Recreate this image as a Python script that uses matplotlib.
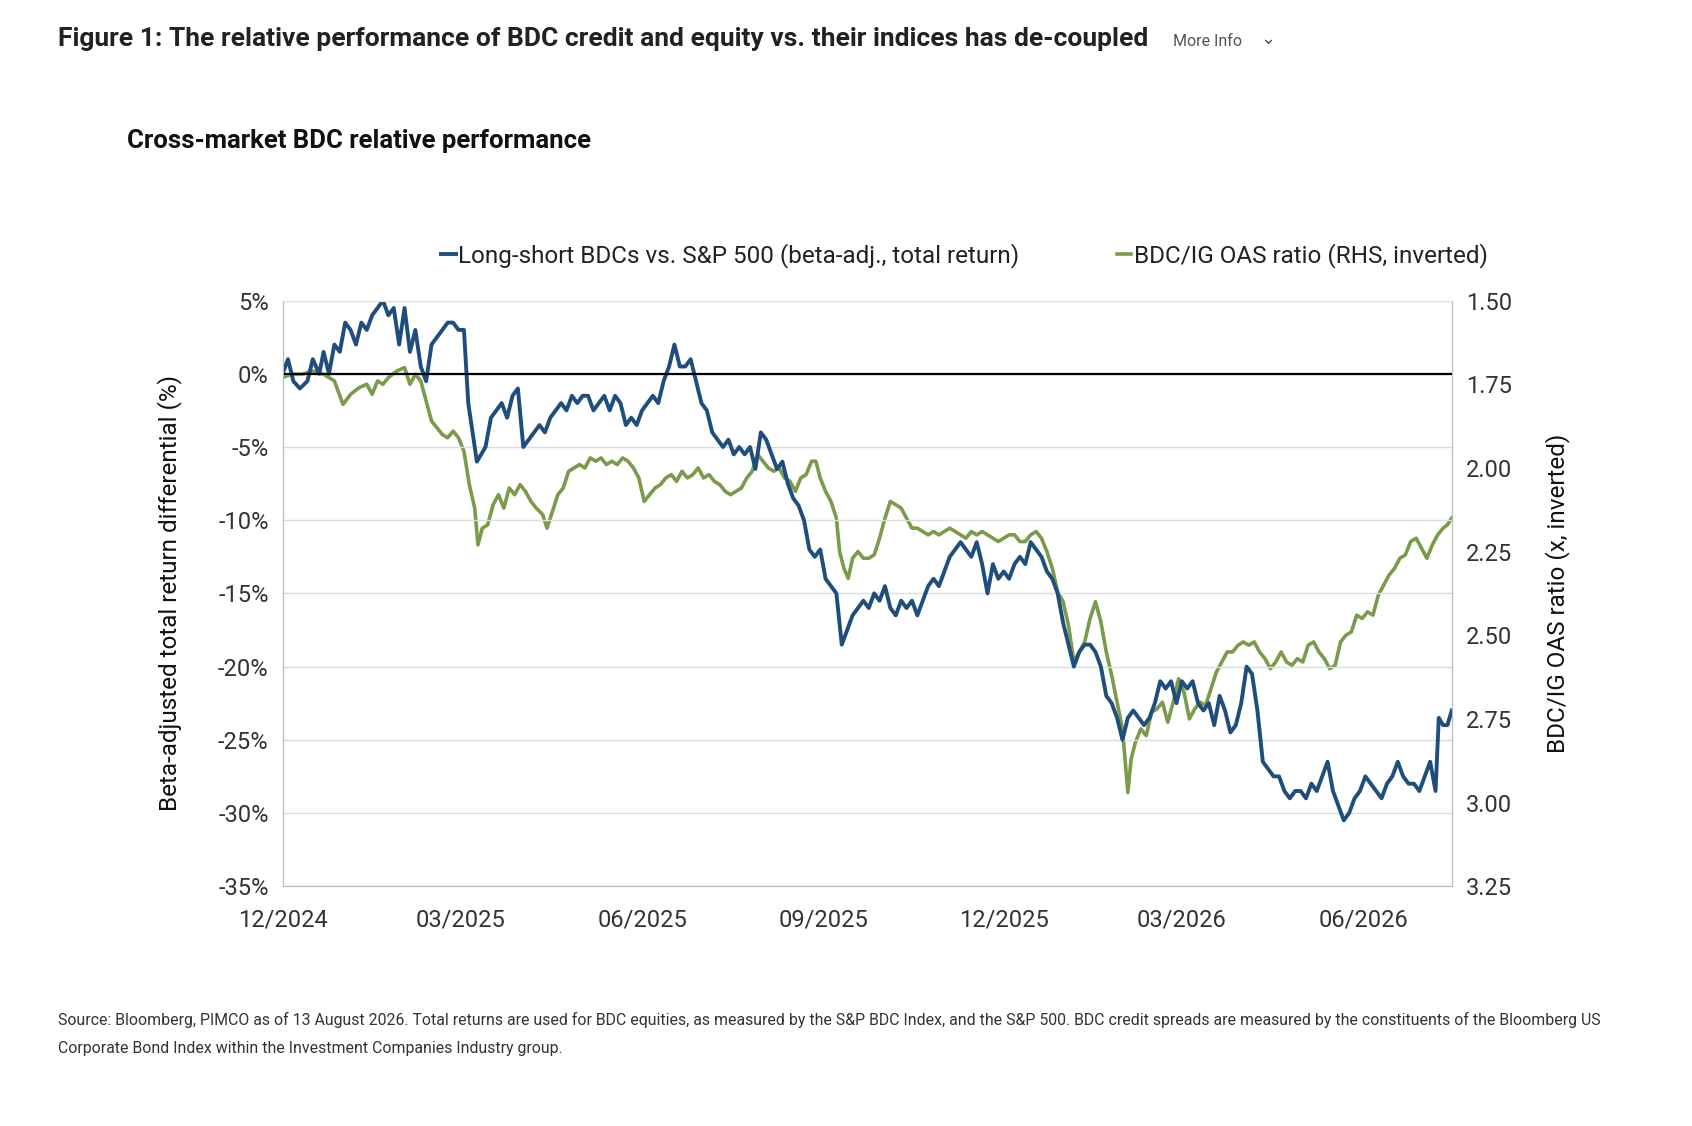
import matplotlib
matplotlib.use("Agg")
import matplotlib.pyplot as plt
import numpy as np
import pandas as pd

plt.rcParams['font.family'] = ['Roboto', 'DejaVu Sans']

# sample positions (chart-units, 1.83 per calendar day from 2024-12-01) and values
blue_pos = [262,267,272,278,285,290,296,300,305,310,315,320,325,330,335,340,345,350,355,360,365,370,375,380,385,390,395,400,405,410,415,420,425,430,434,438,442,446,450,455,460,465,470,475,480,485,490,495,500,505,510,515,520,525,530,535,540,545,550,555,560,565,570,575,580,585,590,595,600,605,610,615,620,625,630,635,640,645,650,655,660,665,670,675,680,685,690,695,700,705,710,715,720,725,730,735,740,745,750,755,760,765,770,775,780,785,790,795,800,805,810,815,820,825,830,835,840,845,850,855,860,865,870,875,880,885,890,895,900,905,910,915,920,925,930,935,940,945,950,955,960,965,970,975,980,985,990,995,1000,1005,1010,1015,1020,1025,1030,1035,1040,1045,1050,1055,1060,1065,1070,1075,1080,1085,1090,1095,1100,1105,1110,1115,1120,1125,1130,1135,1140,1145,1150,1155,1160,1165,1170,1175,1180,1185,1190,1195,1200,1205,1210,1215,1220,1225,1230,1235,1240,1245,1250,1255,1260,1265,1270,1275,1280,1285,1290,1295,1300,1305,1310,1315,1320,1325,1330,1333,1337,1341,1345]
blue_val = [0,1,-0.5,-1,-0.5,1,0,1.5,0,2,1.5,3.5,3,2,3.5,3,4,4.5,5,4,4.5,2,4.5,1.5,3,0.5,-0.5,2,2.5,3,3.5,3.5,3,3,-2,-4,-6,-5.5,-5,-3,-2.5,-2,-3,-1.5,-1,-5,-4.5,-4,-3.5,-4,-3,-2.5,-2,-2.5,-1.5,-2,-1.5,-1.5,-2.5,-2,-1.5,-2.5,-1.5,-2,-3.5,-3,-3.5,-2.5,-2,-1.5,-2,-0.5,0.5,2,0.5,0.5,1,-0.5,-2,-2.5,-4,-4.5,-5,-4.5,-5.5,-5,-5.5,-5,-6.5,-4,-4.5,-5.5,-6.5,-6,-7.5,-8.5,-9,-10,-12,-12.5,-12,-14,-14.5,-15,-18.5,-17.5,-16.5,-16,-15.5,-16,-15,-15.5,-14.5,-16,-16.5,-15.5,-16,-15.5,-16.5,-15.5,-14.5,-14,-14.5,-13.5,-12.5,-12,-11.5,-12,-12.5,-11.5,-13,-15,-13,-14,-13.5,-14,-13,-12.5,-13,-11.5,-12,-12.5,-13.5,-14,-15,-17,-18.5,-20,-19,-18.5,-18.5,-19,-20,-22,-22.5,-23.5,-25,-23.5,-23,-23.5,-24,-23.5,-22.5,-21,-21.5,-21,-22.5,-21,-21.5,-21,-22.5,-23,-22.5,-24,-22,-23,-24.5,-24,-22.5,-20,-20.5,-23,-26.5,-27,-27.5,-27.5,-28.5,-29,-28.5,-28.5,-29,-28,-28.5,-27.5,-26.5,-28.5,-29.5,-30.5,-30,-29,-28.5,-27.5,-28,-28.5,-29,-28,-27.5,-26.5,-27.5,-28,-28,-28.5,-27.5,-26.5,-28.5,-23.5,-24,-24,-23]

green_pos = [262,270,280,290,300,310,318,325,333,340,345,350,355,360,368,375,380,385,390,395,400,405,410,415,420,425,430,435,440,443,447,452,457,462,467,472,477,482,487,492,497,503,507,512,517,522,527,532,537,542,547,552,557,562,567,572,577,582,587,592,597,602,607,612,617,622,627,632,637,642,647,652,657,662,667,672,677,682,687,692,697,702,707,712,717,722,727,732,737,742,747,752,756,760,765,770,775,778,782,786,790,795,800,805,810,815,820,825,830,835,840,845,850,855,860,865,870,875,880,885,890,895,900,905,910,915,920,925,930,935,940,945,950,955,960,965,970,975,980,985,990,995,1000,1005,1010,1015,1020,1025,1030,1035,1040,1045,1048,1052,1057,1062,1067,1072,1077,1082,1087,1092,1097,1102,1107,1112,1117,1122,1127,1132,1137,1142,1147,1152,1157,1162,1167,1172,1177,1182,1187,1192,1197,1202,1207,1212,1217,1222,1227,1232,1237,1242,1247,1252,1257,1262,1267,1272,1277,1282,1287,1292,1297,1302,1307,1312,1317,1322,1327,1332,1337,1341,1345]
green_val = [1.73,1.72,1.72,1.71,1.72,1.74,1.81,1.78,1.76,1.75,1.78,1.74,1.75,1.73,1.71,1.70,1.75,1.72,1.74,1.80,1.86,1.88,1.90,1.91,1.89,1.91,1.95,2.05,2.12,2.23,2.18,2.17,2.11,2.08,2.12,2.06,2.08,2.05,2.07,2.10,2.12,2.14,2.18,2.13,2.08,2.06,2.01,2.00,1.99,2.00,1.97,1.98,1.97,1.99,1.98,1.99,1.97,1.98,2.00,2.03,2.10,2.08,2.06,2.05,2.03,2.02,2.04,2.01,2.03,2.02,2.00,2.03,2.02,2.04,2.05,2.07,2.08,2.07,2.06,2.03,2.01,1.96,1.98,2.00,2.01,2.00,2.03,2.04,2.07,2.03,2.02,1.98,1.98,2.03,2.07,2.10,2.15,2.25,2.30,2.33,2.27,2.25,2.27,2.27,2.26,2.21,2.15,2.10,2.11,2.12,2.15,2.18,2.18,2.19,2.20,2.19,2.20,2.19,2.18,2.19,2.20,2.21,2.19,2.20,2.19,2.20,2.21,2.22,2.21,2.20,2.20,2.22,2.22,2.20,2.19,2.21,2.25,2.30,2.37,2.40,2.47,2.58,2.55,2.52,2.45,2.40,2.46,2.55,2.62,2.70,2.78,2.97,2.87,2.82,2.78,2.80,2.73,2.72,2.70,2.76,2.70,2.63,2.67,2.75,2.72,2.70,2.71,2.66,2.61,2.58,2.55,2.55,2.53,2.52,2.53,2.52,2.55,2.57,2.60,2.58,2.55,2.58,2.59,2.57,2.58,2.53,2.52,2.55,2.57,2.60,2.59,2.52,2.50,2.49,2.44,2.45,2.43,2.44,2.38,2.35,2.32,2.30,2.27,2.26,2.22,2.21,2.24,2.27,2.23,2.20,2.18,2.17,2.15]

start = pd.Timestamp('2024-12-01')
to_dates = lambda p: [start + pd.Timedelta(days=(x - 262) / 1.83) for x in p]
blue_dates = to_dates(blue_pos)
green_dates = to_dates(green_pos)

tick_dates = ['2024-12-01', '2025-03-01', '2025-06-01', '2025-09-01', '2025-12-01', '2026-03-01', '2026-06-01']
tick_labels = ['12/2024', '03/2025', '06/2025', '09/2025', '12/2025', '03/2026', '06/2026']

BLUE = '#1f4e7d'
GREEN = '#7b9b4a'

fig = plt.figure(figsize=(16.92, 11.26), dpi=100)
ax = fig.add_axes([0.167, 0.213, 0.691, 0.520])
ax2 = ax.twinx()

ax2.plot(green_dates, green_val, color=GREEN, lw=2.6)
ax.plot(blue_dates, blue_val, color=BLUE, lw=2.8)
ax.set_zorder(ax2.get_zorder() + 1)
ax.patch.set_visible(False)

ax.set_ylim(-35, 5)
ax.set_yticks(np.arange(-35, 6, 5))
ax.set_yticklabels([f'{v}%' for v in range(-35, 6, 5)])
ax2.set_ylim(3.25, 1.5)
ax2.set_yticks([1.5, 1.75, 2.0, 2.25, 2.5, 2.75, 3.0, 3.25])
ax2.set_yticklabels([f'{v:.2f}' for v in [1.5, 1.75, 2.0, 2.25, 2.5, 2.75, 3.0, 3.25]])
ax.set_xlim(start, blue_dates[-1])
ax.set_xticks(pd.to_datetime(tick_dates))
ax.set_xticklabels(tick_labels)

ax.grid(axis='y', color='#dddddd', lw=1)
ax.axhline(0, color='black', lw=1.6)
for a in (ax, ax2):
    for s in a.spines.values():
        s.set_color('#bbbbbb')
    a.spines['top'].set_visible(False)
    a.tick_params(length=0, labelsize=17, colors='#333333', pad=10)
ax.tick_params(axis='x', pad=16)
ax.spines['top'].set_visible(True); ax.spines['top'].set_color('#e0e0e0')

ax.set_ylabel('Beta-adjusted total return differential (%)', fontsize=17.5, color='#111111', labelpad=26)
ax2.set_ylabel('BDC/IG OAS ratio (x, inverted)', fontsize=17.5, color='#111111', labelpad=24)

h1, = ax.plot([], [], color=BLUE, lw=2.8)
h2, = ax.plot([], [], color=GREEN, lw=2.6)
fig.legend([h1, h2], ['Long-short BDCs vs. S&P 500 (beta-adj., total return)', 'BDC/IG OAS ratio (RHS, inverted)'],
           loc='center', bbox_to_anchor=(0.57, 0.773), ncol=2, frameon=False, fontsize=17.5,
           handlelength=0.6, handletextpad=0.1, columnspacing=4.0, labelcolor='#222222')

fig.text(0.034, 0.965, 'Figure 1: The relative performance of BDC credit and equity vs. their indices has de-coupled',
         fontsize=19, fontweight='bold', color='#222222', va='center')
fig.text(0.693, 0.963, 'More Info', fontsize=11.5, color='#555555', va='center')
fig.text(0.745, 0.965, '\u2304', fontsize=13, color='#555555', va='center')
fig.text(0.075, 0.875, 'Cross-market BDC relative performance', fontsize=18.5, fontweight='bold', color='#111111', va='center')
fig.text(0.034, 0.094, 'Source: Bloomberg, PIMCO as of 13 August 2026. Total returns are used for BDC equities, as measured by the S&P BDC Index, and the S&P 500. BDC credit spreads are measured by the constituents of the Bloomberg US',
         fontsize=11.4, color='#333333', va='center')
fig.text(0.034, 0.069, 'Corporate Bond Index within the Investment Companies Industry group.', fontsize=11.4, color='#333333', va='center')

fig.savefig('out.png', dpi=100, facecolor='white')
